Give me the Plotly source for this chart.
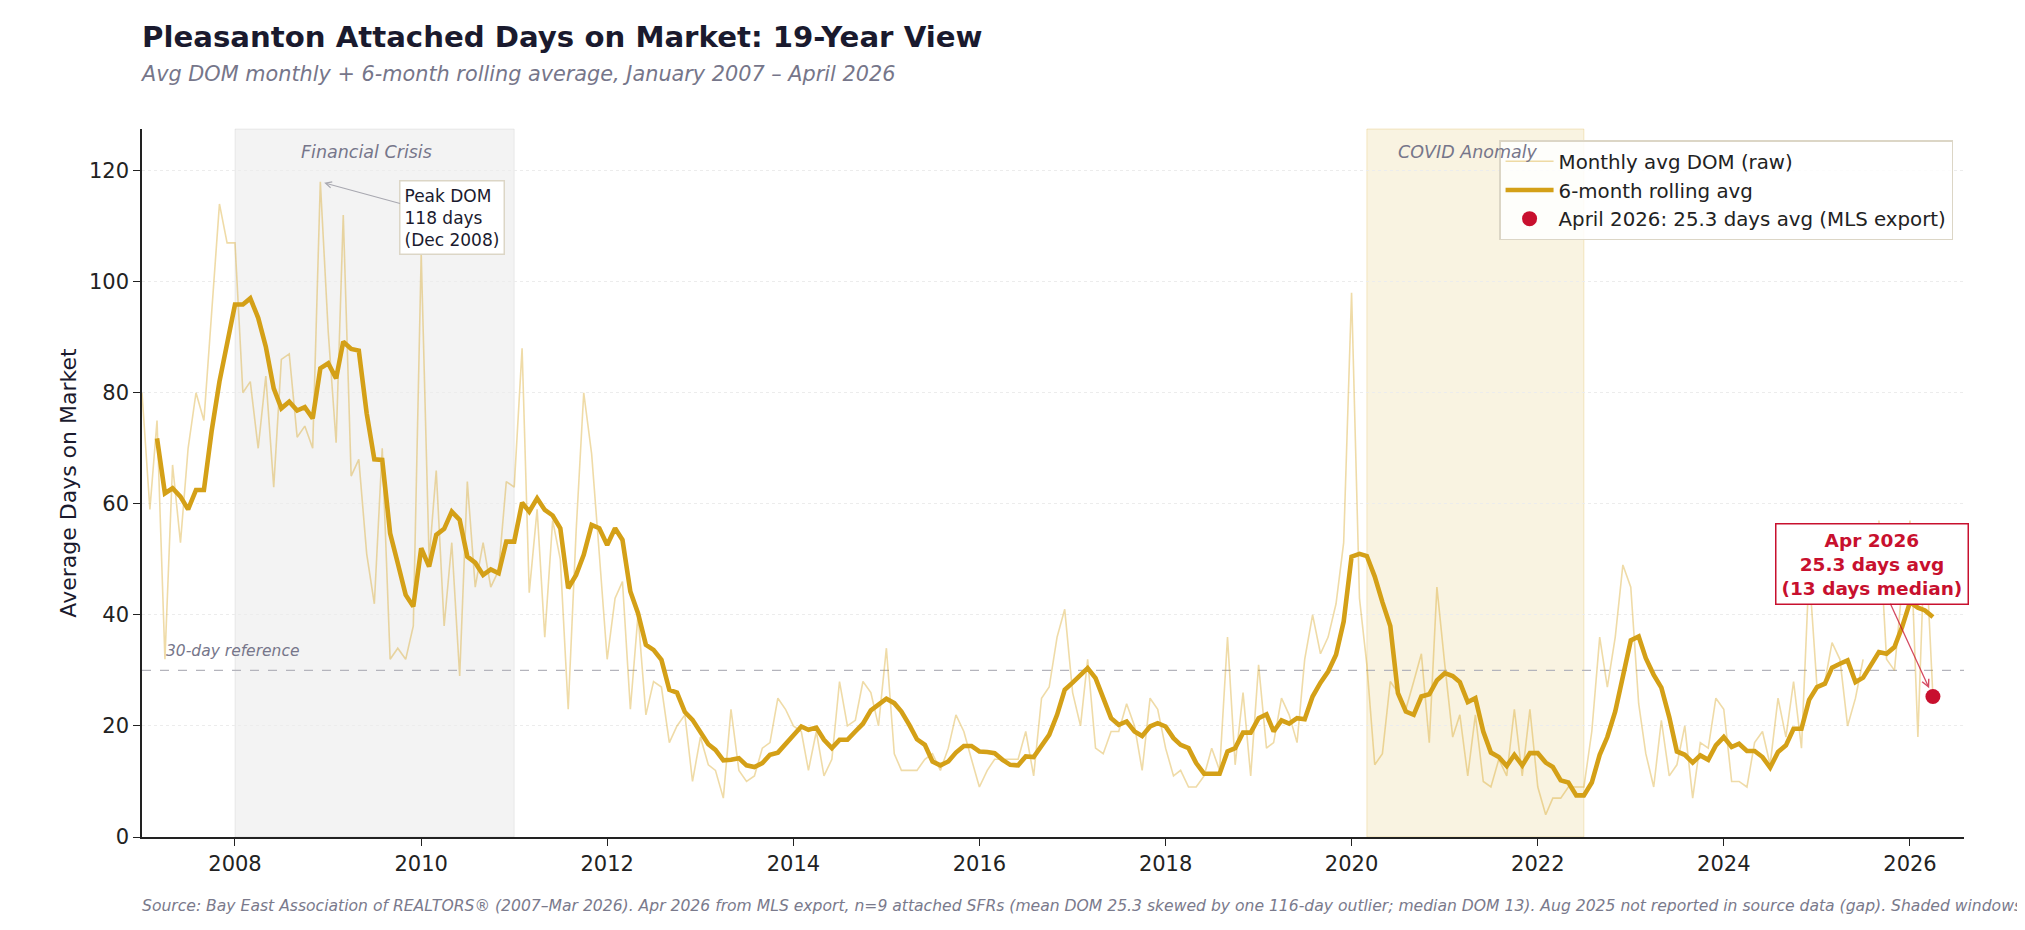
import pandas as pd
import plotly.graph_objects as go

# monthly average DOM, Jan 2007 .. Apr 2026 (Aug 2025 missing in source)
raw_dom = [
    80, 59, 75, 32, 67, 53, 70, 80, 75, 94, 114, 107,        # 2007
    107, 80, 82, 70, 83, 63, 86, 87, 72, 74, 70, 118,        # 2008
    91, 71, 112, 65, 68, 51, 42, 70, 32, 34, 32, 38,         # 2009
    105, 50, 66, 38, 53, 29, 64, 45, 53, 45, 48, 64,         # 2010
    63, 88, 44, 59, 36, 57, 50, 23, 55, 80, 69, 51,          # 2011
    32, 43, 46, 23, 40, 22, 28, 27, 17, 20, 22, 10,          # 2012
    18, 13, 12, 7, 23, 12, 10, 11, 16, 17, 25, 23,           # 2013
    20, 19, 12, 19, 11, 14, 28, 20, 21, 28, 26, 20,          # 2014
    34, 15, 12, 12, 12, 14, 15, 12, 16, 22, 19, 14,          # 2015
    9, 12, 14, 14, 14, 14, 19, 11, 25, 27, 36, 41,           # 2016
    26, 20, 32, 16, 15, 19, 19, 24, 20, 12, 25, 23,          # 2017
    16, 11, 12, 9, 9, 11, 16, 12, 36, 13, 26, 11,            # 2018
    31, 16, 17, 25, 22, 17, 32, 40, 33, 36, 42, 53,          # 2019
    98, 43, 31, 13, 15, 28, 26, 23, 28, 33, 17, 45,          # 2020
    31, 18, 22, 11, 22, 10, 9, 14, 11, 23, 11, 23,           # 2021
    9, 4, 7, 7, 9, 9, 9, 19, 36, 27, 36, 49,                 # 2022
    45, 24, 15, 9, 21, 11, 13, 20, 7, 17, 16, 25,            # 2023
    23, 10, 10, 9, 17, 19, 13, 25, 18, 28, 16, 48,           # 2024
    27, 28, 35, 32, 20, 25, 32, None, 57, 32, 30, 45,        # 2025
    57, 18, 55, 25.3,                                        # 2026
]

# 6-month rolling average as drawn, starting Mar 2007
rolling_avg = [
    71.8, 61.9, 62.8, 61.3, 59.0, 62.5, 62.5, 73.0, 82.0, 89.2,
    95.9, 95.9, 97.0, 93.5, 88.3, 80.8, 77.2, 78.4, 76.8, 77.4, 75.4, 84.4,
    85.3, 82.6, 89.2, 87.9, 87.6, 76.3, 68.0, 67.9, 54.7, 49.3, 43.6, 41.5,
    52.0, 48.7, 54.4, 55.5, 58.6, 57.1, 50.5, 49.4, 47.2, 48.2, 47.5, 53.2,
    53.2, 60.2, 58.6, 61.0, 58.9, 57.9, 55.6, 44.8, 47.2, 50.8, 56.2, 55.6,
    52.6, 55.6, 53.5, 44.2, 40.3, 34.6, 33.7, 31.9, 26.5, 26.0, 22.5, 21.1,
    19.0, 16.7, 15.7, 13.8, 13.9, 14.2, 12.9, 12.6, 13.3, 14.8, 15.2, 16.8,
    18.4, 19.9, 19.3, 19.7, 17.5, 16.0, 17.5, 17.5, 19.0, 20.4, 22.8, 23.8,
    24.9, 24.1, 22.6, 20.2, 17.6, 16.6, 13.6, 12.9, 13.6, 15.2, 16.4, 16.4,
    15.4, 15.3, 15.1, 13.9, 13.0, 12.9, 14.5, 14.4, 16.3, 18.4, 22.0, 26.5,
    27.8, 29.2, 30.4, 28.6, 25.0, 21.4, 20.2, 20.8, 19.0, 18.2, 19.9, 20.5,
    19.9, 17.8, 16.6, 16.0, 13.3, 11.4, 11.4, 11.4, 15.4, 16.0, 18.8, 18.8,
    21.4, 22.1, 19.0, 21.0, 20.4, 21.4, 21.2, 25.3, 27.8, 29.8, 32.8, 38.8,
    50.5, 51.0, 50.6, 46.9, 42.3, 38.0, 25.9, 22.6, 22.0, 25.3, 25.7, 28.2,
    29.5, 29.0, 27.9, 24.3, 25.0, 19.0, 15.2, 14.4, 12.8, 14.8, 12.9, 15.1,
    15.1, 13.4, 12.6, 10.2, 9.8, 7.5, 7.5, 9.8, 14.8, 18.0, 22.6, 28.5,
    35.4, 36.1, 32.2, 29.2, 26.9, 21.6, 15.4, 14.8, 13.4, 14.7, 13.9, 16.5,
    18.0, 16.2, 16.8, 15.5, 15.5, 14.4, 12.5, 15.3, 16.5, 19.5, 19.5, 24.7,
    27.0, 27.6, 30.5, 31.2, 31.8, 27.9, 28.7, 31.0, 33.3, 33.0, 34.2, 37.8,
    42.3, 41.3, 40.8, 39.6,
]

months = pd.date_range("2007-01-01", periods=len(raw_dom), freq="MS")
rolling_months = months[len(raw_dom) - len(rolling_avg):]

peak_date, peak_dom = "2008-12-01", 118
apr_date, apr_avg = "2026-04-01", 25.3
reference_dom = 30

GOLD = "#D4A017"
RED = "#C8102E"
FONT = "DejaVu Sans"
GREY_TXT = "#76768a"

fig = go.Figure()

fig.add_trace(go.Scatter(
    x=months, y=raw_dom, mode="lines", name="Monthly avg DOM (raw)",
    line=dict(color="rgba(212,160,23,0.38)", width=1.6), connectgaps=False,
))
fig.add_trace(go.Scatter(
    x=rolling_months, y=rolling_avg, mode="lines", name="6-month rolling avg",
    line=dict(color=GOLD, width=4.6),
))
fig.add_trace(go.Scatter(
    x=[apr_date], y=[apr_avg], mode="markers",
    name="April 2026: 25.3 days avg (MLS export)",
    marker=dict(color=RED, size=15),
))

# shaded windows
fig.add_vrect(x0="2008-01-01", x1="2011-01-01", fillcolor="rgba(150,150,150,0.11)",
              line=dict(color="rgba(150,150,150,0.15)", width=1), layer="below")
fig.add_vrect(x0="2020-03-01", x1="2022-07-01", fillcolor="rgba(212,160,23,0.13)",
              line=dict(color="rgba(212,160,23,0.22)", width=1), layer="below")

# 30-day reference line
fig.add_hline(y=reference_dom, line=dict(color="#b4b4bc", width=1.3, dash="dash"),
              layer="below")

annos = [
    dict(x="2009-06-01", y=0.984, yref="paper", text="<i>Financial Crisis</i>",
         showarrow=False, font=dict(size=17.5, color=GREY_TXT)),
    dict(x="2021-04-01", y=0.984, yref="paper", text="<i>COVID Anomaly</i>",
         showarrow=False, font=dict(size=17.5, color=GREY_TXT)),
    dict(x=0.012, xref="paper", y=reference_dom, text="<i>30-day reference</i>",
         showarrow=False, xanchor="left", yanchor="bottom", yshift=8,
         font=dict(size=15.5, color=GREY_TXT)),
    dict(x=peak_date, y=peak_dom, ax=132, ay=36,
         text="Peak DOM<br>118 days<br>(Dec 2008)", align="left",
         showarrow=True, arrowhead=5, arrowsize=1.1, arrowwidth=1.1,
         arrowcolor="#a8a8b0", standoff=4,
         bgcolor="white", bordercolor="#dcd6c6", borderwidth=1.5, borderpad=4,
         font=dict(size=17, color="#1a1a2e")),
    dict(x=apr_date, y=apr_avg, ax=-61, ay=-133,
         text="<b>Apr 2026<br>25.3 days avg<br>(13 days median)</b>",
         showarrow=True, arrowhead=5, arrowsize=1.1, arrowwidth=1.3,
         arrowcolor="rgba(200,16,46,0.75)", standoff=9,
         bgcolor="white", bordercolor=RED, borderwidth=1.5, borderpad=5,
         font=dict(size=18.5, color=RED)),
    dict(x=0, xref="paper", y=1.077, yref="paper", xanchor="left", yanchor="middle",
         xshift=-4,
         text="<i>Avg DOM monthly + 6-month rolling average, January 2007 \u2013 April 2026</i>",
         showarrow=False, font=dict(size=20.8, color=GREY_TXT)),
    dict(x=0, xref="paper", y=-0.098, yref="paper", xanchor="left", yanchor="middle",
         xshift=-2,
         text="<i>Source: Bay East Association of REALTORS\u00ae (2007\u2013Mar 2026). "
              "Apr 2026 from MLS export, n=9 attached SFRs (mean DOM 25.3 skewed by one "
              "116-day outlier; median DOM 13). Aug 2025 not reported in source data (gap). "
              "Shaded windows</i>",
         showarrow=False, font=dict(size=15.6, color="#7a7a8c")),
]
for a in annos:
    fig.add_annotation(**a)

# the page adds an 8px body margin, so margins are trimmed to land the plot where it belongs
fig.update_layout(
    width=2025, height=930,
    paper_bgcolor="white", plot_bgcolor="white",
    font=dict(family=FONT, size=19, color="#222222"),
    margin=dict(l=134, r=69, t=121, b=101),
    title=dict(text="<b>Pleasanton Attached Days on Market: 19-Year View</b>",
               x=134 / 2025, xanchor="left", y=1 - 29 / 930, yanchor="middle",
               font=dict(size=29.2, color="#1a1a2e")),
    legend=dict(x=0.994, y=0.984, xanchor="right", yanchor="top",
                bgcolor="rgba(255,255,255,0.85)", bordercolor="#dcd6c6", borderwidth=1.5,
                font=dict(size=19.8, color="#222222"), itemwidth=48),
    showlegend=True,
)
fig.update_xaxes(
    type="date", range=["2007-01-01", "2026-08-01"],
    tick0="2008-01-01", dtick="M24", tickformat="%Y",
    showgrid=False, showline=True, linecolor="#222222", linewidth=1.6,
    ticks="outside", ticklen=7, tickwidth=1.4, tickcolor="#222222",
    tickfont=dict(size=21, color="#222222"), zeroline=False,
)
fig.update_yaxes(
    range=[0, 127.5], tick0=0, dtick=20,
    showgrid=True, gridcolor="#ececec", griddash="dot", gridwidth=1,
    showline=True, linecolor="#222222", linewidth=1.6,
    ticks="outside", ticklen=7, tickwidth=1.4, tickcolor="#222222",
    tickfont=dict(size=21, color="#222222"), zeroline=False,
    title=dict(text="Average Days on Market", font=dict(size=22, color="#1a1a2e"), standoff=6),
)

fig.write_html("out.html")
